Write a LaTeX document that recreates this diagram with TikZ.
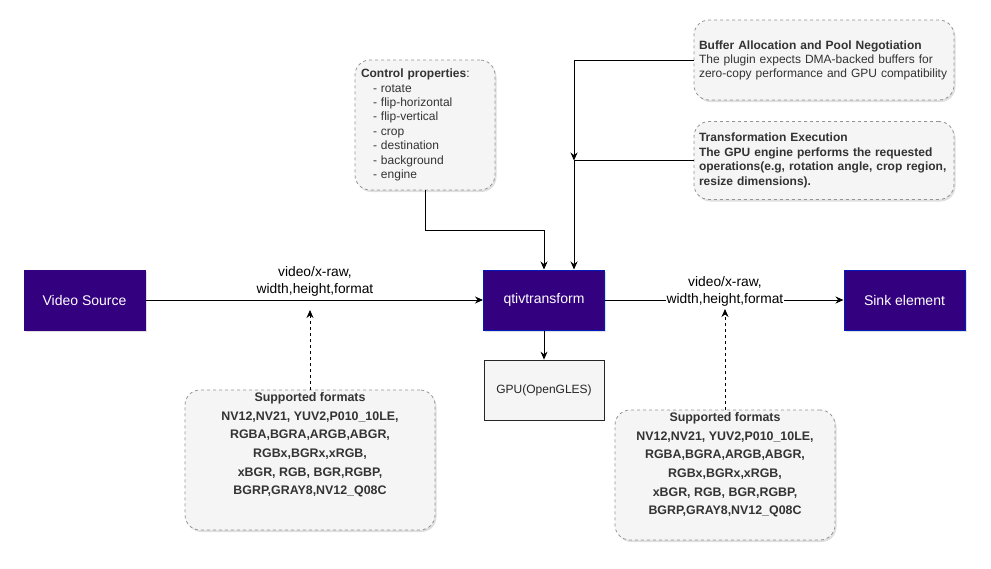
\documentclass[tikz,border=0pt]{standalone}
\usepackage{fontspec}
\setmainfont{Liberation Sans}
\usetikzlibrary{shadows,arrows.meta}
\definecolor{purp}{HTML}{330080}
\definecolor{bblue}{HTML}{001DBC}
\definecolor{lgray}{HTML}{F5F5F5}
\definecolor{dgray}{HTML}{666666}
\definecolor{tgray}{HTML}{333333}
\begin{document}
\begin{tikzpicture}[x=1pt,y=-1pt,
  shad/.style={drop shadow={opacity=0.25,shadow xshift=1.5pt,shadow yshift=-2pt}},
  pbox/.style={rectangle,fill=purp,draw=bblue,line width=1pt,minimum width=121pt,minimum height=60pt,
    text=white,font=\fontsize{14}{16}\selectfont,inner sep=0pt,shad},
  gbox/.style={rectangle,fill=lgray,draw=black!85,line width=0.8pt,minimum width=120pt,minimum height=60pt,
    text=black!85,font=\fontsize{12}{14}\selectfont},
  dbox/.style={rectangle,rounded corners=15pt,fill=lgray,draw=dgray!70,dashed,line width=0.8pt,
    text=tgray,inner sep=0pt,shad},
  ftext/.style={align=center,text=tgray,font=\fontsize{12.4}{18.6}\selectfont\bfseries,inner sep=2pt},
  lbl/.style={align=center,font=\fontsize{13.8}{16.5}\selectfont,inner sep=1pt},
  arr/.style={-{Stealth[length=8pt,width=7pt]},line width=0.9pt},
  darr/.style={arr,dashed,line width=0.8pt}
]
\useasboundingbox (0,0) rectangle (991,568);

% main blocks
\node[pbox,draw=purp] (src) at (84.5,300) {Video Source};
\node[pbox] (qt) at (544,300) {qtivtransform};
\node[pbox] (sink) at (904.5,300) {Sink element};
\node[gbox] (gpu) at (544,390) {GPU(OpenGLES)};

% control properties
\node[dbox,minimum width=140pt,minimum height=130pt,text width=128pt,align=left,
  font=\fontsize{12}{14.4}\selectfont] (ctrl) at (425,125)
  {\textbf{Control properties}:\\
   \hspace*{12pt}- rotate\\
   \hspace*{12pt}- flip-horizontal\\
   \hspace*{12pt}- flip-vertical\\
   \hspace*{12pt}- crop\\
   \hspace*{12pt}- destination\\
   \hspace*{12pt}- background\\
   \hspace*{12pt}- engine};

% buffer allocation
\node[dbox,minimum width=260pt,minimum height=80pt,text width=250pt,align=left,
  font=\fontsize{12}{14}\selectfont] (buf) at (824,60)
  {\textbf{Buffer Allocation and Pool Negotiation}\\
   The plugin expects DMA-backed buffers for\\
   zero-copy performance and GPU compatibility};

% transformation execution
\node[dbox,minimum width=260pt,minimum height=78pt,text width=250pt,align=left,
  font=\fontsize{12}{14.7}\selectfont\bfseries] (trans) at (824,160.5)
  {Transformation Execution\\
   The GPU engine performs the requested\\
   operations(e.g, rotation angle, crop region,\\
   resize dimensions).};

% supported formats boxes
\node[dbox,minimum width=250pt,minimum height=140pt] (fmtL) at (310,460) {};
\node[ftext,anchor=north] (fmtLt) at ([yshift=-1pt]fmtL.north)
  {Supported formats\\NV12,NV21, YUV2,P010\_10LE,\\RGBA,BGRA,ARGB,ABGR,\\RGBx,BGRx,xRGB,\\xBGR, RGB, BGR,RGBP,\\BGRP,GRAY8,NV12\_Q08C};
\node[dbox,minimum width=220pt,minimum height=130pt] (fmtR) at (725,475) {};
\node[ftext,anchor=north] (fmtRt) at ([yshift=-1pt]fmtR.north)
  {Supported formats\\NV12,NV21, YUV2,P010\_10LE,\\RGBA,BGRA,ARGB,ABGR,\\RGBx,BGRx,xRGB,\\xBGR, RGB, BGR,RGBP,\\BGRP,GRAY8,NV12\_Q08C};

% connectors
\draw[arr] (src) -- (qt);
\node[lbl] (lblL) at (315,281.5) {video/x-raw,\\width,height,format};
\draw[arr] (qt) -- (sink);
\node[lbl,fill=white,inner ysep=0.5pt] (lblR) at (725,291.5) {video/x-raw,\\width,height,format};
\draw[arr] (qt) -- (gpu);
\draw[arr] (ctrl.south) -- ++(0,40) -| (qt.north);
\coordinate (join) at (574,160.5);
\draw[arr] (buf.west) -| (join);
\draw[arr] (trans.west) -| ([xshift=30pt]qt.north);
\coordinate (tipL) at (310,310);
\coordinate (tipR) at (725,309);
\draw[darr] (fmtL.north) -- (tipL);
\draw[darr] (fmtR.north) -- (tipR);
\end{tikzpicture}
\end{document}
